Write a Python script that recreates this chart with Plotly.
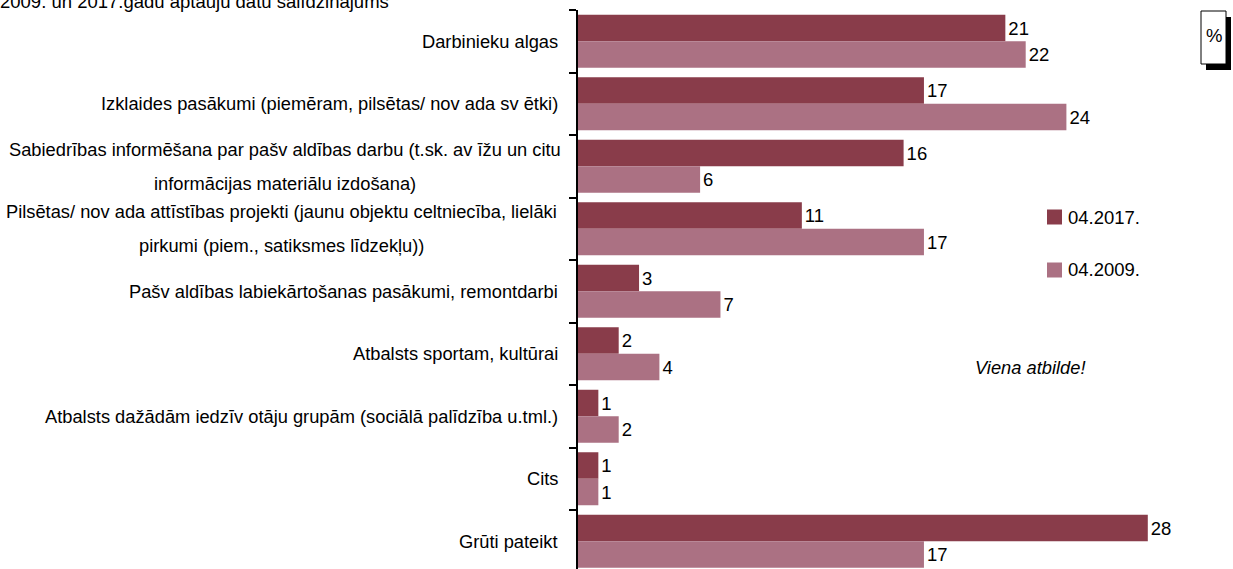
import plotly.graph_objects as go

# --- data -------------------------------------------------------------
categories = [
    "Darbinieku algas",
    "Izklaides pasākumi (piemēram, pilsētas/ nov ada sv ētki)",
    "Sabiedrības informēšana par pašv aldības darbu (t.sk. av īžu un citu\ninformācijas materiālu izdošana)",
    "Pilsētas/ nov ada attīstības projekti (jaunu objektu celtniecība, lielāki\npirkumi (piem., satiksmes līdzekļu))",
    "Pašv aldības labiekārtošanas pasākumi, remontdarbi",
    "Atbalsts sportam, kultūrai",
    "Atbalsts dažādām iedzīv otāju grupām (sociālā palīdzība u.tml.)",
    "Cits",
    "Grūti pateikt",
]
values_2017 = [21, 17, 16, 11, 3, 2, 1, 1, 28]
values_2009 = [22, 24, 6, 17, 7, 4, 2, 1, 17]
series_names = ["04.2017.", "04.2009."]
series_colors = ["#893C4A", "#AB7183"]
title_text = "2009. un 2017.gadu aptauju datu salīdzinājums"
note_text = "Viena atbilde!"
unit_text = "%"

# --- geometry ---------------------------------------------------------
FIG_W, FIG_H = 1233, 569
L, R, T, B = 578, 40, 10, 0
PLOT_W = FIG_W - L - R
PLOT_H = FIG_H - T - B
X_MAX = PLOT_W / 20.35
CAT_PX = 62.5
Y_BOTTOM = -0.5 + PLOT_H / CAT_PX

FONT = "Liberation Sans, Arial, sans-serif"
FS = 18.3


def px_x(px):
    return (px - L) / PLOT_W


def px_y(py):
    return 1 - (py - T) / PLOT_H


cat_ids = list(range(len(categories)))

fig = go.Figure()
for name, vals, col in zip(series_names, [values_2017, values_2009], series_colors):
    fig.add_trace(go.Bar(
        y=cat_ids, x=vals, orientation="h", name=name,
        marker=dict(color=col, line=dict(width=0)),
        text=[str(v) for v in vals], textposition="outside",
        textfont=dict(family=FONT, size=18.5, color="black"),
        constraintext="none", cliponaxis=False,
        hoverinfo="skip",
    ))

annotations = []
shapes = []

# category labels (multi-line blocks centred on each other)
block_centres = {2: 284.5, 3: 281.0}
for i, cat in enumerate(categories):
    lines = cat.split("\n")
    if len(lines) == 1:
        annotations.append(dict(
            x=px_x(560), xref="paper", y=i, yref="y", text=lines[0],
            xanchor="right", yanchor="middle", showarrow=False,
            font=dict(family=FONT, size=FS, color="black")))
    else:
        cx = block_centres[i]
        for j, line in enumerate(lines):
            annotations.append(dict(
                x=px_x(cx), xref="paper", y=i, yref="y", text=line,
                xanchor="center", yanchor="middle", showarrow=False,
                yshift=17 if j == 0 else -17,
                font=dict(family=FONT, size=FS, color="black")))

# legend drawn as swatches + labels
legend_rows = [217, 270]
for name, col, cy in zip(series_names, series_colors, legend_rows):
    shapes.append(dict(type="rect", xref="paper", yref="paper",
                       x0=px_x(1047), x1=px_x(1062), y0=px_y(cy - 7.5), y1=px_y(cy + 7.5),
                       fillcolor=col, line=dict(width=0)))
    annotations.append(dict(x=px_x(1066), xref="paper", y=px_y(cy), yref="paper",
                            text=name, xanchor="left", yanchor="middle", showarrow=False,
                            font=dict(family=FONT, size=18.5, color="black")))

# note
annotations.append(dict(x=px_x(1030), xref="paper", y=px_y(367), yref="paper",
                        text=f"<i>{note_text}</i>", xanchor="center", yanchor="middle",
                        showarrow=False, font=dict(family=FONT, size=FS, color="black")))

# unit box with drop shadow
shapes.append(dict(type="rect", xref="paper", yref="paper",
                   x0=px_x(1206), x1=px_x(1231), y0=px_y(70), y1=px_y(17),
                   fillcolor="black", line=dict(width=0)))
shapes.append(dict(type="rect", xref="paper", yref="paper",
                   x0=px_x(1201), x1=px_x(1226), y0=px_y(64), y1=px_y(11),
                   fillcolor="white", line=dict(color="black", width=1)))
annotations.append(dict(x=px_x(1213.5), xref="paper", y=px_y(36), yref="paper",
                        text=unit_text, xanchor="center", yanchor="middle", showarrow=False,
                        font=dict(family=FONT, size=18.5, color="black")))

# title (runs off the top edge)
annotations.append(dict(x=px_x(-2), xref="paper", y=px_y(14), yref="paper",
                        text=title_text, xanchor="left", yanchor="bottom", showarrow=False,
                        font=dict(family=FONT, size=18.5, color="black")))

fig.update_layout(
    width=FIG_W, height=FIG_H,
    margin=dict(l=L, r=R, t=T, b=B, pad=0),
    paper_bgcolor="white", plot_bgcolor="white",
    barmode="group", bargap=0.152, bargroupgap=0,
    showlegend=False,
    xaxis=dict(range=[0, X_MAX], visible=False, fixedrange=True),
    yaxis=dict(type="linear", range=[Y_BOTTOM, -0.5], showline=True, linecolor="black",
               linewidth=2, ticks="outside", ticklen=7, tickwidth=2, tickcolor="black",
               tickmode="array", tickvals=[k - 0.5 for k in range(len(categories) + 1)],
               showticklabels=False, showgrid=False, zeroline=False, fixedrange=True),
    annotations=annotations, shapes=shapes,
)

fig.write_html("out.html")
